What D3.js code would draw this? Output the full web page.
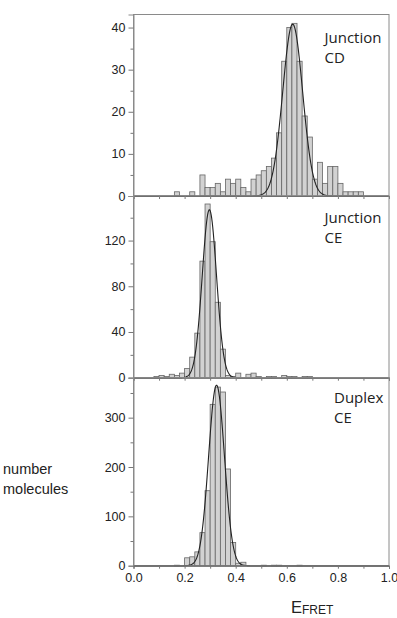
<!DOCTYPE html>
<meta charset="utf-8">
<head>
    <title>FRET histograms</title>
</head>
<style>
    body { margin: 0; background: #fff; }
    text { font-family: "Liberation Sans", Arial, sans-serif; }
    .lab { font-family: "Open Sans", "Noto Sans", sans-serif; }
</style>
<body>
    <svg width="397" height="618"></svg>

    <script src="https://cdnjs.cloudflare.com/ajax/libs/d3/7.8.5/d3.min.js"></script>
    <script>
        // histogram bins (left edge of each 0.02 wide bin) and counts
        var cdBins   = [0.16, 0.22, 0.26, 0.28, 0.30, 0.32, 0.34, 0.36, 0.38, 0.40, 0.42, 0.44, 0.46, 0.48, 0.50, 0.52, 0.54, 0.56, 0.58, 0.60, 0.62, 0.64, 0.66, 0.68, 0.70, 0.72, 0.74, 0.76, 0.78, 0.80, 0.82, 0.84, 0.86, 0.88]
        var cdCounts = [1, 1, 5, 2, 2, 3, 1, 4, 3, 4, 2, 1, 4, 5, 6, 7, 9, 15, 32, 40, 41, 32, 19, 14, 4, 8, 3, 7, 7, 3, 1, 1, 1, 1]

        var ceBins   = [0.08, 0.10, 0.12, 0.14, 0.16, 0.18, 0.20, 0.22, 0.24, 0.26, 0.28, 0.30, 0.32, 0.34, 0.36, 0.38, 0.40, 0.44, 0.46, 0.48, 0.52, 0.54, 0.58, 0.60, 0.62, 0.66, 0.68]
        var ceCounts = [1, 2, 1, 3, 2, 4, 8, 18, 39, 102, 152, 119, 66, 25, 2, 1, 4, 3, 4, 1, 1, 1, 2, 1, 1, 1, 1]

        var dxBins   = [0.16, 0.20, 0.22, 0.24, 0.26, 0.28, 0.30, 0.32, 0.34, 0.36, 0.38, 0.40, 0.42, 0.50, 0.54, 0.56, 0.64]
        var dxCounts = [1, 16, 18, 28, 67, 152, 327, 362, 352, 196, 47, 5, 7, 1, 1, 1, 1]

        // gaussian fits: amplitude, centre, sigma
        var cdFit = [40.8, 0.623, 0.039]
        var ceFit = [147, 0.297, 0.028]
        var dxFit = [366, 0.325, 0.031]

        var cdTicks = [0, 10, 20, 30, 40]
        var ceTicks = [0, 40, 80, 120]
        var dxTicks = [0, 100, 200, 300]

        var binWidth = 0.02
        var svg = d3.select('svg')
        var x = d3.scaleLinear().domain([0, 1]).range([133.5, 389])

        var panels = [
            { bins: cdBins, counts: cdCounts, fit: cdFit, ticks: cdTicks, yMax: 43.1, top: 14.5, bottom: 196, label: ['Junction', 'CD'], lx: 324.5, ly: 42.5 },
            { bins: ceBins, counts: ceCounts, fit: ceFit, ticks: ceTicks, yMax: 159, top: 196, bottom: 377.7, label: ['Junction', 'CE'], lx: 324.5, ly: 222.5 },
            { bins: dxBins, counts: dxCounts, fit: dxFit, ticks: dxTicks, yMax: 381, top: 377.7, bottom: 565.7, label: ['Duplex', 'CE'], lx: 334, ly: 402.5 }
        ]

        panels.forEach(function (p, idx) {
            var y = d3.scaleLinear().domain([0, p.yMax]).range([p.bottom, p.top])
            var g = svg.append('g')

            // bars
            g.selectAll('rect.bar')
                .data(p.bins.map(function (b, i) { return { x0: b, n: p.counts[i] } }))
                .enter()
                .append('rect')
                .attr('class', 'bar')
                .attr('x', function (d) { return x(d.x0) })
                .attr('width', function (d) { return x(d.x0 + binWidth) - x(d.x0) })
                .attr('y', function (d) { return y(d.n) })
                .attr('height', function (d) { return y(0) - y(d.n) })
                .attr('fill', '#d2d2d2')
                .attr('stroke', '#666')
                .attr('stroke-width', 0.8)

            // fitted gaussian
            var pts = d3.range(0, 1.0001, 0.002).map(function (v) {
                var a = p.fit[0], c = p.fit[1], s = p.fit[2]
                return [v, a * Math.exp(-(v - c) * (v - c) / (2 * s * s))]
            })
            g.append('path')
                .datum(pts)
                .attr('fill', 'none')
                .attr('stroke', '#222')
                .attr('stroke-width', 1.1)
                .attr('d', d3.line().x(function (d) { return x(d[0]) }).y(function (d) { return y(d[1]) }))

            // frame
            g.append('rect')
                .attr('x', x(0)).attr('y', p.top)
                .attr('width', x(1) - x(0)).attr('height', p.bottom - p.top)
                .attr('fill', 'none').attr('stroke', '#8a8a8a').attr('stroke-width', 1)

            // y axis: major + minor ticks
            var step = p.ticks[1] - p.ticks[0]
            var minor = d3.range(step / 2, p.yMax, step)
            var yAxis = d3.axisLeft(y).tickValues(p.ticks).tickSize(5).tickPadding(3)
            var ya = g.append('g').attr('transform', 'translate(' + x(0) + ',0)').call(yAxis)
            ya.select('.domain').attr('stroke', '#8a8a8a')
            ya.selectAll('.tick line').attr('stroke', '#777')
            ya.selectAll('.tick text').attr('font-size', 12.5).attr('fill', '#222')
            g.append('g').attr('transform', 'translate(' + x(0) + ',0)')
                .call(d3.axisLeft(y).tickValues(minor).tickSize(3).tickFormat(''))
                .call(function (s) { s.select('.domain').remove(); s.selectAll('line').attr('stroke', '#777') })

            // x axis ticks (labels on bottom panel only)
            var xAxis = d3.axisBottom(x).tickValues(d3.range(0, 1.0001, 0.1)).tickSize(3).tickPadding(4)
            if (idx === panels.length - 1) {
                xAxis.tickFormat(function (d) {
                    var r = Math.round(d * 10)
                    return r % 2 === 0 ? d3.format('.1f')(d) : ''
                })
            } else {
                xAxis.tickFormat('')
            }
            var xa = g.append('g').attr('transform', 'translate(0,' + p.bottom + ')').call(xAxis)
            xa.select('.domain').attr('stroke', '#555')
            xa.selectAll('.tick line').attr('stroke', '#777')
            xa.selectAll('.tick text').attr('font-size', 12.5).attr('fill', '#222')

            // panel label
            var t = g.append('text').attr('class', 'lab').attr('x', p.lx).attr('y', p.ly)
                .attr('font-size', 15).attr('fill', '#222')
            t.selectAll('tspan').data(p.label).enter().append('tspan')
                .attr('x', p.lx).attr('dy', function (d, i) { return i ? 20 : 0 })
                .text(function (d) { return d })
        })

        // axis titles
        svg.append('text').attr('x', 3).attr('y', 474).attr('font-size', 14.5).attr('fill', '#222')
            .selectAll('tspan').data(['number', 'molecules']).enter().append('tspan')
            .attr('x', 3).attr('dy', function (d, i) { return i ? 20 : 0 })
            .text(function (d) { return d })

        var xt = svg.append('text').attr('x', 291).attr('y', 612.5).attr('fill', '#222').attr('font-size', 16.5)
        xt.append('tspan').text('E')
        xt.append('tspan').attr('font-size', 12).attr('dy', 1.5).text('FRET')
    </script>
</body>
